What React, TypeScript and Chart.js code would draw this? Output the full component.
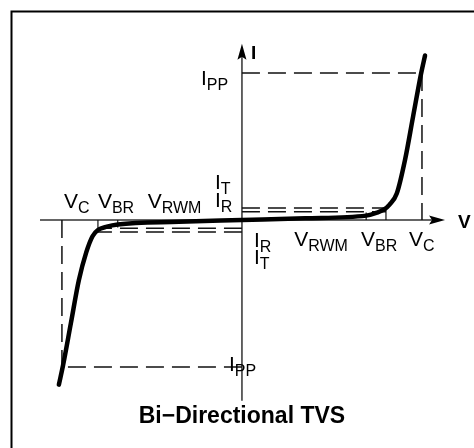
import React, { useEffect, useRef } from "react";
import { Chart, registerables } from "chart.js";
Chart.register(...registerables);

// Characteristic levels (arbitrary units)
const V_C = 10;
const V_BR = 8;
const V_RWM = 6.9;
const I_PP = 10;
const I_T = 0.82;
const I_R = 0.56;

// Bi-directional TVS I-V curve
const curveV = [-10.17, -9.94, -9.5, -9.06, -8.65, -8.3, -8.0, -7.5, -6.9, -3.5, 0, 3.5, 6.9, 7.5, 7.9, 8.2, 8.6, 9.06, 9.5, 9.94, 10.17];
const curveI = [-11.2, -9.9, -7.0, -4.1, -2.2, -1.1, -0.68, -0.45, -0.3, -0.12, 0, 0.12, 0.3, 0.5, 0.72, 1.05, 1.8, 4.1, 7.0, 9.9, 11.2];

// Axis window and drawn axis extents
const xRange = [-13.44, 12.89];
const yRange = [-15.51, 14.97];
const xAxisExtent = [-11.22, 11.28];
const yAxisExtent = [-12.3, 12.0];

const FONT = "'Liberation Sans', Arial, Helvetica, sans-serif";

function drawSub(ctx: CanvasRenderingContext2D, main: string, sub: string, x: number, y: number, size = 21, subSize = 16) {
  ctx.textAlign = "left";
  ctx.textBaseline = "alphabetic";
  ctx.font = `${size}px ${FONT}`;
  ctx.fillText(main, x, y);
  const w = ctx.measureText(main).width;
  ctx.font = `${subSize}px ${FONT}`;
  ctx.fillText(sub, x + w, y + 5);
}

const overlay = {
  id: "tvsOverlay",
  beforeDatasetsDraw(chart: any) {
    const ctx = chart.ctx as CanvasRenderingContext2D;
    const xs = chart.scales.x;
    const ys = chart.scales.y;
    const px = (v: number) => xs.getPixelForValue(v);
    const py = (v: number) => ys.getPixelForValue(v);
    ctx.save();
    // frame
    ctx.strokeStyle = "#000";
    ctx.lineWidth = 2;
    ctx.beginPath();
    ctx.moveTo(11.5, chart.height + 5);
    ctx.lineTo(11.5, 11.5);
    ctx.lineTo(chart.width + 5, 11.5);
    ctx.stroke();

    // axes
    ctx.strokeStyle = "#333";
    ctx.lineWidth = 1.5;
    ctx.beginPath();
    ctx.moveTo(px(xAxisExtent[0]), py(0));
    ctx.lineTo(px(xAxisExtent[1]) - 8, py(0));
    ctx.moveTo(px(0), py(yAxisExtent[0]));
    ctx.lineTo(px(0), py(yAxisExtent[1]) + 8);
    ctx.stroke();
    ctx.fillStyle = "#000";
    // x arrow
    const xt = px(xAxisExtent[1]);
    ctx.beginPath();
    ctx.moveTo(xt, py(0));
    ctx.lineTo(xt - 16, py(0) - 4.5);
    ctx.lineTo(xt - 13, py(0));
    ctx.lineTo(xt - 16, py(0) + 4.5);
    ctx.closePath();
    ctx.fill();
    // y arrow
    const yt = py(yAxisExtent[1]);
    ctx.beginPath();
    ctx.moveTo(px(0), yt);
    ctx.lineTo(px(0) - 4.5, yt + 16);
    ctx.lineTo(px(0), yt + 13);
    ctx.lineTo(px(0) + 4.5, yt + 16);
    ctx.closePath();
    ctx.fill();

    // dashed guides
    ctx.strokeStyle = "#111";
    ctx.lineWidth = 1.5;
    ctx.setLineDash([18, 8]);
    const seg = (x1: number, y1: number, x2: number, y2: number) => {
      ctx.beginPath();
      ctx.moveTo(px(x1), py(y1));
      ctx.lineTo(px(x2), py(y2));
      ctx.stroke();
    };
    seg(0, I_PP, V_C, I_PP);
    seg(V_C, I_PP, V_C, 0);
    seg(0, -I_PP, -V_C, -I_PP);
    seg(-V_C, 0, -V_C, -I_PP);
    seg(0, I_T, V_BR, I_T);
    seg(0, I_R, V_BR, I_R);
    seg(0, -I_T, -V_BR, -I_T);
    seg(0, -I_R, -V_BR, -I_R);
    ctx.setLineDash([]);
    // small ticks
    ctx.lineWidth = 1.2;
    seg(V_RWM, 0, V_RWM, I_R * 0.9);
    seg(V_BR, 0, V_BR, I_T);
    seg(-V_RWM, 0, -V_RWM, -I_R * 0.9);
    seg(-V_BR, 0, -V_BR, -I_T);
    ctx.restore();
  },
  afterDatasetsDraw(chart: any) {
    const ctx = chart.ctx as CanvasRenderingContext2D;
    const xs = chart.scales.x;
    const ys = chart.scales.y;
    const px = (v: number) => xs.getPixelForValue(v);
    const py = (v: number) => ys.getPixelForValue(v);
    ctx.save();
    ctx.fillStyle = "#000";
    const x0 = px(0);
    const y0 = py(0);
    // upper-left labels
    drawSub(ctx, "V", "C", px(-V_C) + 2, y0 - 12);
    drawSub(ctx, "V", "BR", px(-V_BR) + 0, y0 - 12);
    drawSub(ctx, "V", "RWM", px(-V_RWM) + 30, y0 - 12);
    drawSub(ctx, "I", "R", x0 - 27, y0 - 13);
    drawSub(ctx, "I", "T", x0 - 27, y0 - 31);
    // lower-right labels
    drawSub(ctx, "I", "R", x0 + 12, y0 + 27);
    drawSub(ctx, "I", "T", x0 + 12, y0 + 44);
    drawSub(ctx, "V", "RWM", px(V_RWM) - 72, y0 + 26);
    drawSub(ctx, "V", "BR", px(V_BR) - 25, y0 + 26);
    drawSub(ctx, "V", "C", px(V_C) - 13, y0 + 26);
    // I_PP labels
    drawSub(ctx, "I", "PP", x0 - 41, py(I_PP) + 12);
    drawSub(ctx, "I", "PP", x0 - 13, py(-I_PP) + 4);
    // axis names
    ctx.font = `bold 19px ${FONT}`;
    ctx.textAlign = "left";
    ctx.fillText("I", x0 + 9, py(yAxisExtent[1]) + 15);
    ctx.fillText("V", px(xAxisExtent[1]) + 13, y0 + 8);
    // title
    ctx.font = `bold 23px ${FONT}`;
    ctx.textAlign = "center";
    ctx.fillText("Bi\u2212Directional TVS", x0, py(yAxisExtent[0]) + 22);
    ctx.restore();
  },
};

export default function App() {
  const ref = useRef<HTMLCanvasElement>(null);
  useEffect(() => {
    if (!ref.current) return;
    const chart = new Chart(ref.current, {
      type: "scatter",
      data: {
        datasets: [
          {
            data: curveV.map((v, i) => ({ x: v, y: curveI[i] })),
            showLine: true,
            borderColor: "#000",
            borderWidth: 4.5,
            pointRadius: 0,
            cubicInterpolationMode: "monotone",
            borderCapStyle: "round",
            fill: false,
          } as any,
        ],
      },
      options: {
        animation: false,
        responsive: false,
        maintainAspectRatio: false,
        devicePixelRatio: 1,
        layout: { padding: 0 },
        plugins: { legend: { display: false }, tooltip: { enabled: false }, title: { display: false } },
        scales: {
          x: { type: "linear", min: xRange[0], max: xRange[1], display: false },
          y: { type: "linear", min: yRange[0], max: yRange[1], display: false },
        },
      },
      plugins: [overlay],
    });
    return () => chart.destroy();
  }, []);
  return (
    <canvas
      ref={ref}
      width={474}
      height={448}
      style={{ position: "fixed", left: 0, top: 0, width: 474, height: 448, background: "#fff" }}
    />
  );
}
